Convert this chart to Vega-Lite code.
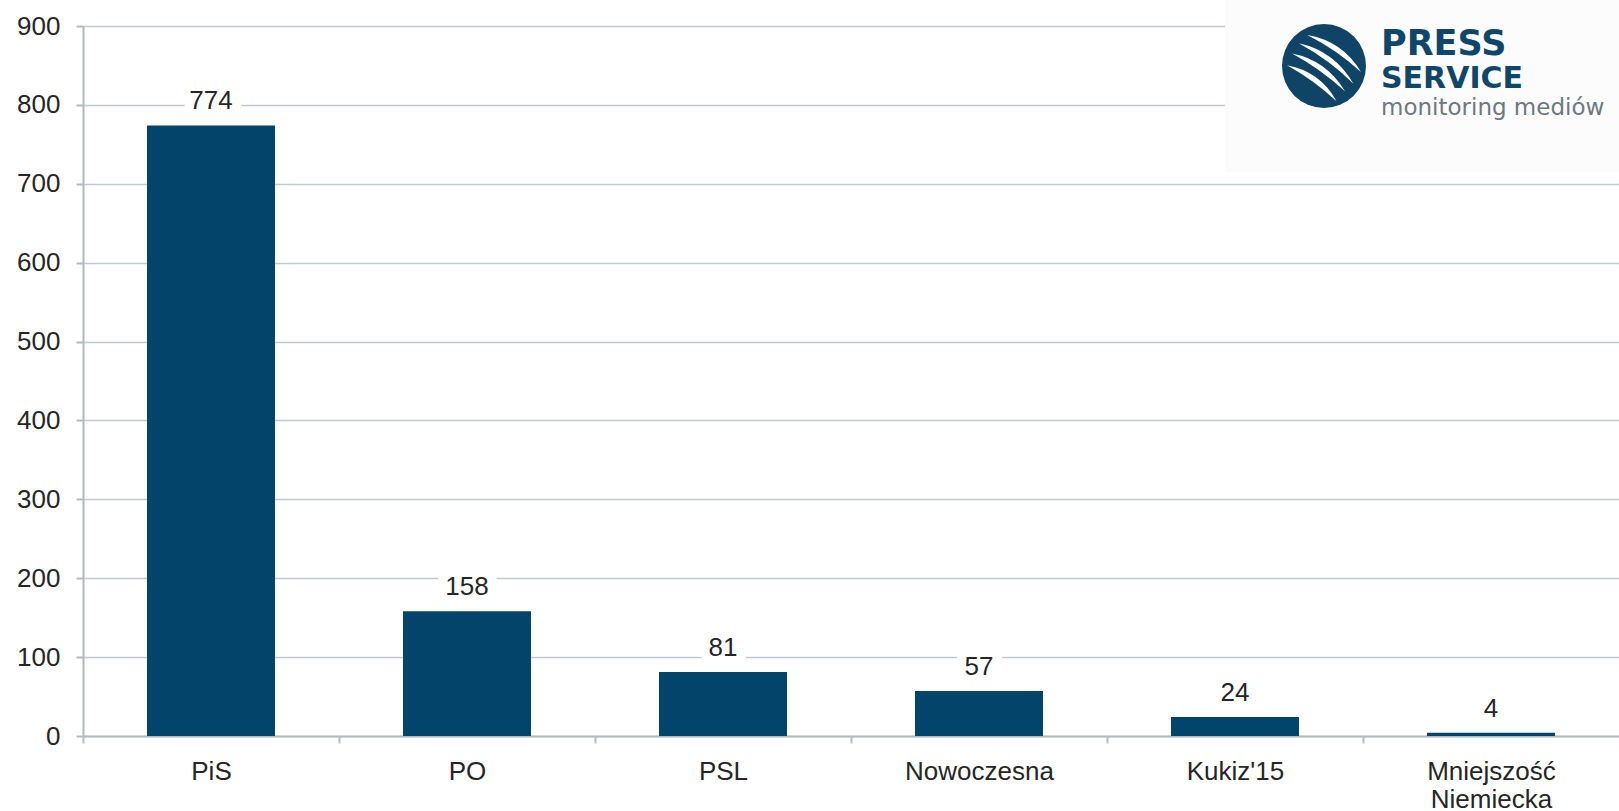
{
  "$schema": "https://vega.github.io/schema/vega-lite/v6.json",
  "width": 1536,
  "height": 710,
  "autosize": {"type": "none"},
  "padding": {"left": 83, "top": 26, "right": 0, "bottom": 75},
  "background": "white",
  "config": {"view": {"stroke": null}, "font": "Liberation Sans"},
  "data": {"values": [
    {"party": "PiS", "count": 774},
    {"party": "PO", "count": 158},
    {"party": "PSL", "count": 81},
    {"party": "Nowoczesna", "count": 57},
    {"party": "Kukiz'15", "count": 24},
    {"party": "Mniejszość Niemiecka", "count": 4}
  ]},
  "encoding": {
    "x": {
      "field": "party", "type": "nominal", "sort": null,
      "scale": {"domain": ["PiS", "PO", "PSL", "Nowoczesna", "Kukiz'15", "Mniejszość Niemiecka"], "paddingInner": 0.5, "paddingOuter": 0.25},
      "axis": {
        "title": null, "bandPosition": 0.5, "tickOffset": -128, "labelOffset": 128,
        "labelAngle": 0, "labelFont": "Liberation Sans", "labelFontSize": 26, "labelColor": "#262626",
        "labelPadding": 15, "labelBaseline": "top", "labelLineHeight": 28, "labelOverlap": false, "labelLimit": 0,
        "labelExpr": "datum.label == 'Mniejszość Niemiecka' ? ['Mniejszość', 'Niemiecka'] : datum.label",
        "tickSize": 7, "tickColor": "#b4b9bd", "tickWidth": 2,
        "domainColor": "#b4b9bd", "domainWidth": 2, "grid": false
      }
    },
    "y": {
      "field": "count", "type": "quantitative",
      "scale": {"domain": [0, 900], "nice": false},
      "axis": {
        "title": null, "values": [0, 100, 200, 300, 400, 500, 600, 700, 800, 900],
        "labelFont": "Liberation Sans", "labelFontSize": 26, "labelColor": "#262626", "labelPadding": 16,
        "tickSize": 7, "tickColor": "#b4b9bd", "tickWidth": 2,
        "domainColor": "#b4b9bd", "domainWidth": 2,
        "gridColor": "#c3c8cd", "gridWidth": 1.5
      }
    }
  },
  "layer": [
    {"mark": {"type": "bar", "color": "#03446b"}},
    {
      "mark": {"type": "text", "baseline": "alphabetic", "dy": -16, "fontSize": 26, "font": "Liberation Sans",
               "fill": "white", "stroke": "white", "strokeWidth": 19, "strokeJoin": "round"},
      "encoding": {"text": {"field": "count"}}
    },
    {
      "mark": {"type": "text", "baseline": "alphabetic", "dy": -16, "fontSize": 26, "font": "Liberation Sans", "color": "#262626"},
      "encoding": {"text": {"field": "count"}}
    },
    {
      "transform": [{"filter": "datum.party === 'Mniejszość Niemiecka'"}],
      "mark": {"type": "point", "shape": "M-1,-0.4365H1V0.4365H-1Z", "size": 155236, "filled": true,
               "color": "#fcfcfd", "opacity": 1, "strokeWidth": 0, "xOffset": -69, "yOffset": 60},
      "encoding": {"y": {"datum": 900, "type": "quantitative"}}
    },
    {
      "transform": [{"filter": "datum.party === 'Mniejszość Niemiecka'"}],
      "mark": {"type": "point", "shape": "circle", "size": 7056, "filled": true,
               "color": "#0f4467", "opacity": 1, "strokeWidth": 0, "xOffset": -167, "yOffset": 40},
      "encoding": {"y": {"datum": 900, "type": "quantitative"}}
    },
    {
      "transform": [{"filter": "datum.party === 'Mniejszość Niemiecka'"}],
      "mark": {"type": "point",
               "shape": "M-0.4,-0.74Q0.44,-0.6,0.88,0.14Q0.3,-0.39,-0.4,-0.74ZM-0.6,-0.54Q0.24,-0.36,0.7,0.42Q0.12,-0.15,-0.6,-0.54ZM-0.76,-0.3Q0.06,-0.14,0.5,0.6Q-0.08,0.07,-0.76,-0.3ZM-0.88,-0.02Q-0.08,0.13,0.3,0.84Q-0.23,0.34,-0.88,-0.02Z",
               "size": 7056, "filled": true, "color": "white", "opacity": 1, "strokeWidth": 0, "xOffset": -167, "yOffset": 40},
      "encoding": {"y": {"datum": 900, "type": "quantitative"}}
    },
    {
      "transform": [{"filter": "datum.party === 'Mniejszość Niemiecka'"}],
      "mark": {"type": "text", "align": "left", "baseline": "alphabetic", "font": "DejaVu Sans",
               "fontWeight": "bold", "fontSize": 35, "color": "#11466b", "dx": -110, "dy": 29},
      "encoding": {"y": {"datum": 900, "type": "quantitative"}, "text": {"value": "PRESS"}}
    },
    {
      "transform": [{"filter": "datum.party === 'Mniejszość Niemiecka'"}],
      "mark": {"type": "text", "align": "left", "baseline": "alphabetic", "font": "DejaVu Sans",
               "fontWeight": "bold", "fontSize": 30, "color": "#11466b", "dx": -110, "dy": 62},
      "encoding": {"y": {"datum": 900, "type": "quantitative"}, "text": {"value": "SERVICE"}}
    },
    {
      "transform": [{"filter": "datum.party === 'Mniejszość Niemiecka'"}],
      "mark": {"type": "text", "align": "left", "baseline": "alphabetic", "font": "DejaVu Sans",
               "fontSize": 23, "color": "#6d7881", "dx": -110, "dy": 89},
      "encoding": {"y": {"datum": 900, "type": "quantitative"}, "text": {"value": "monitoring mediów"}}
    }
  ]
}
